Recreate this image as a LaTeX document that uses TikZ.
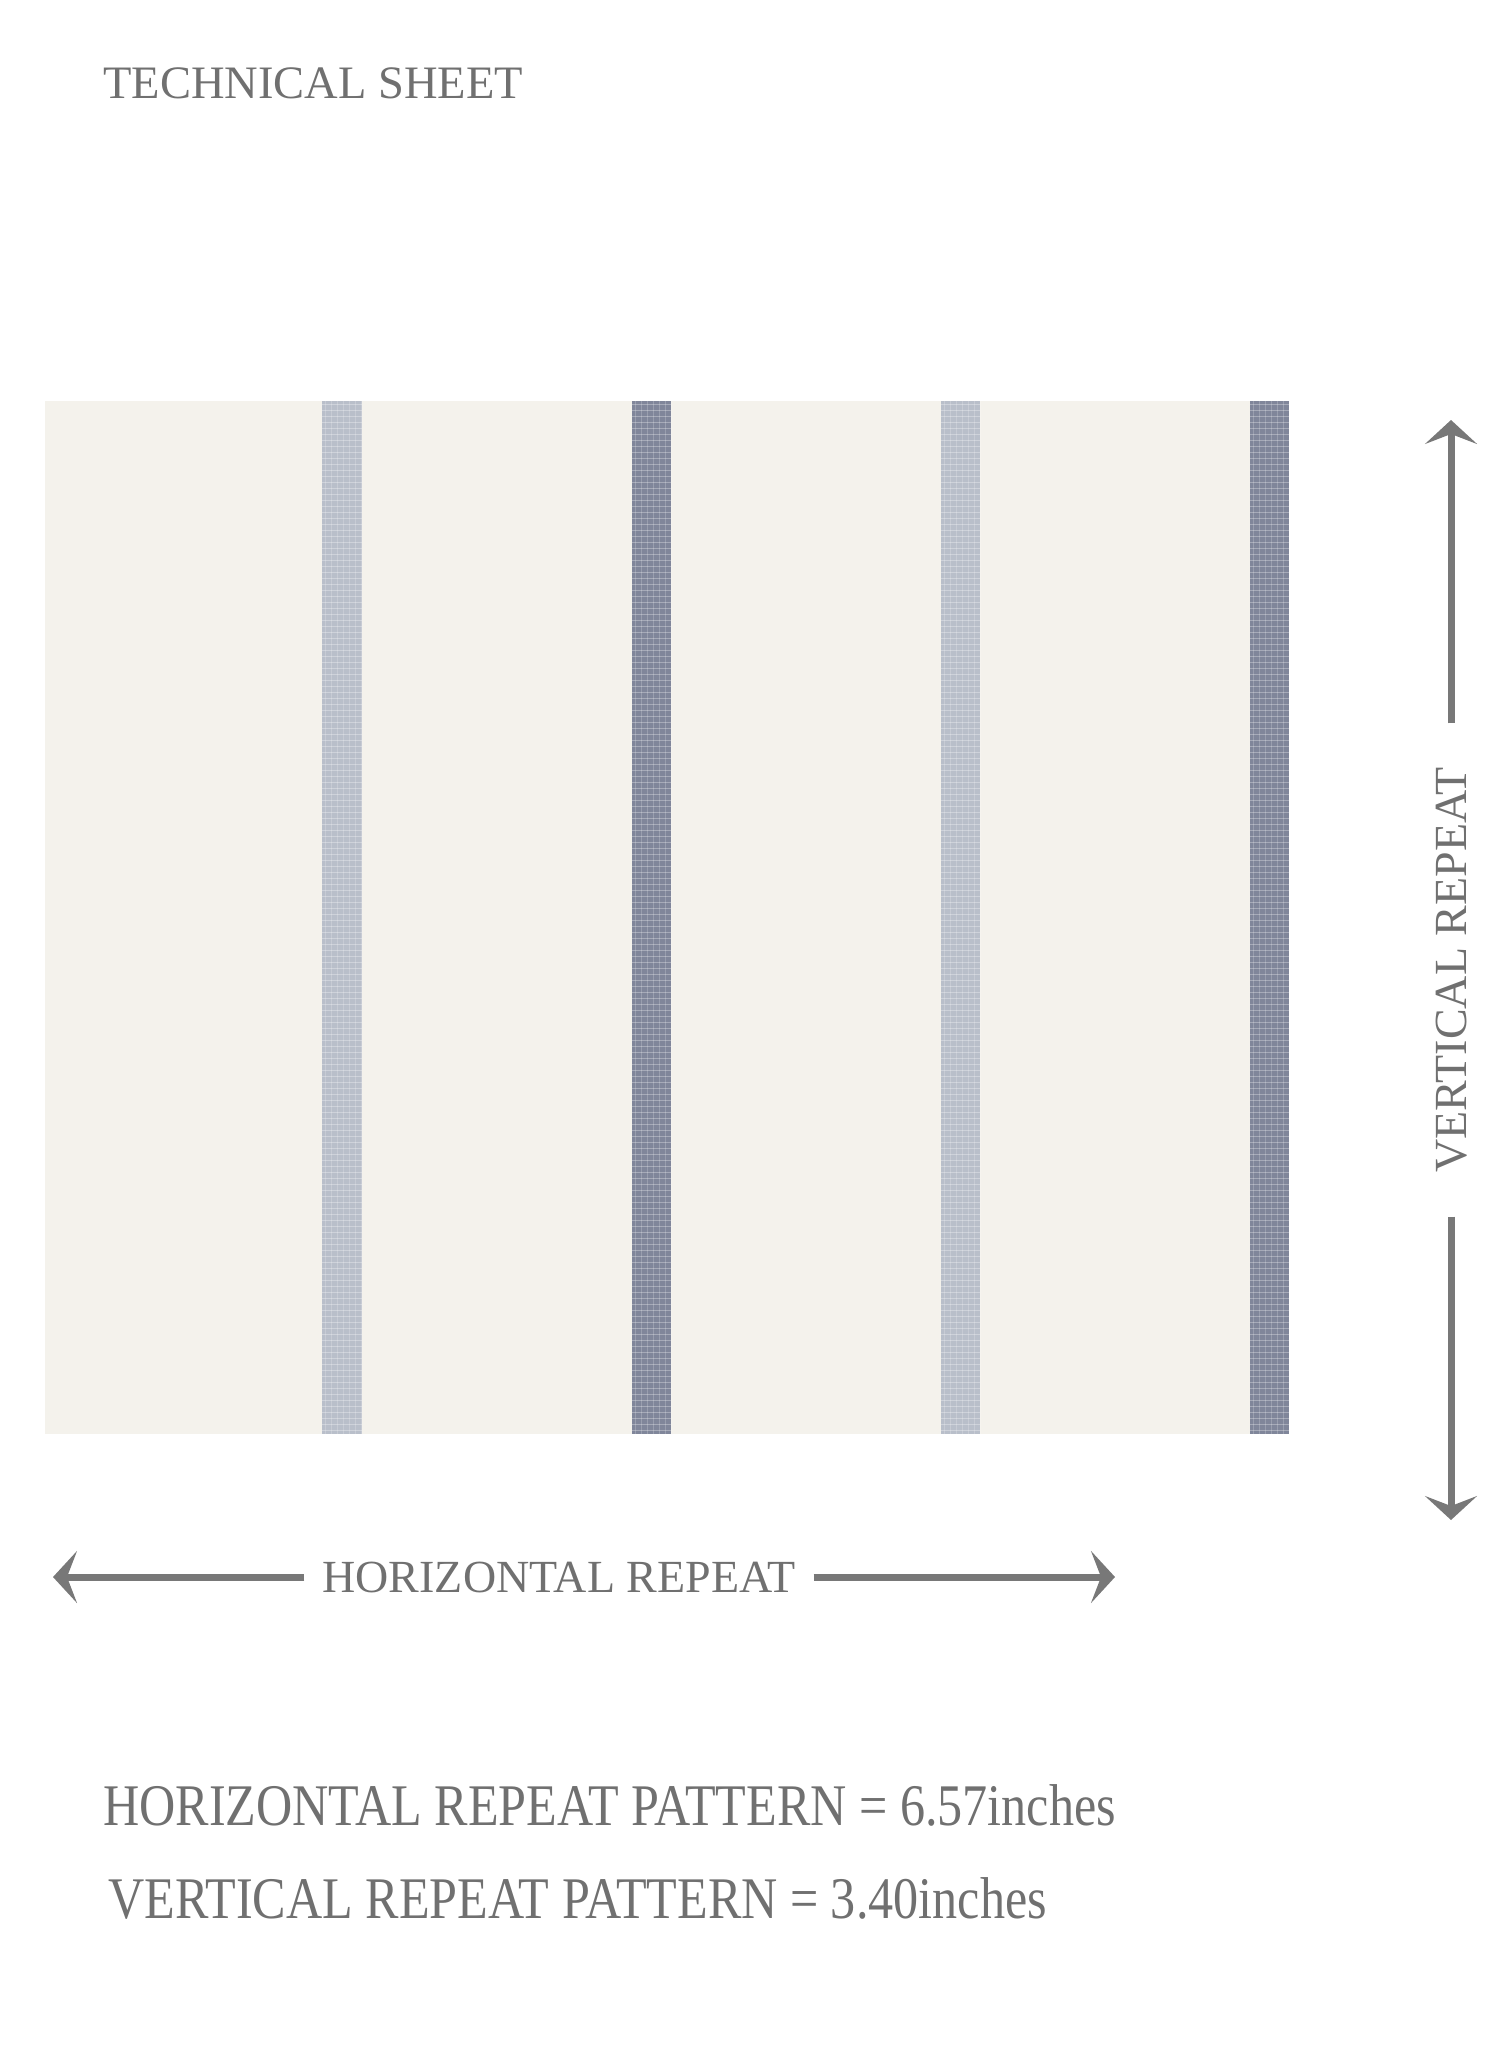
\documentclass[tikz,border=0pt]{standalone}
\usepackage{fontspec}
\setmainfont{Liberation Serif}
\newfontfamily\narrowserif[FakeStretch=0.85]{Liberation Serif}
\usetikzlibrary{arrows.meta}
\definecolor{sheetgray}{HTML}{707070}
\definecolor{arrowgray}{HTML}{787878}
\definecolor{linen}{HTML}{F4F2EC}
\definecolor{mistblue}{HTML}{B9BFCA}
\definecolor{slateblue}{HTML}{80869A}

\begin{document}
\begin{tikzpicture}[x=1pt, y=-1pt,
    sheettext/.style={text=sheetgray, inner sep=0pt, anchor=base west},
    repeatarrow/.style={arrowgray, line width=7pt, -{Stealth[length=24pt, width=52pt, inset=10pt]}},
    repeatlabel/.style={text=sheetgray, font=\fontsize{46}{50}\selectfont, text height=31pt, text depth=0pt, inner ysep=0pt}]

    \useasboundingbox (0,0) rectangle (1500,2063);

    % Title
    \node[sheettext, font=\fontsize{46.5}{50}\selectfont] (title) at (103,99) {TECHNICAL SHEET};

    % Draw fabric and stripes
    \fill[linen] (45,401) rectangle (1289,1434);
    \foreach \xl/\xr/\c in {322/362/mistblue, 632/671/slateblue, 941/980/mistblue, 1250/1289/slateblue} {
      \fill[\c] (\xl,401) rectangle (\xr,1434);
      % weave texture
      \foreach \y in {404,410,...,1430}
        \draw[white, opacity=0.3, line width=0.8pt] (\xl,\y) -- (\xr,\y);
      \foreach \dx in {3,9,...,39}
        \draw[white, opacity=0.2, line width=0.8pt] (\xl+\dx,401) -- (\xl+\dx,1434);
    }

    % Horizontal repeat
    \node[repeatlabel, inner xsep=18pt] (hlabel) at (559,1577) {HORIZONTAL REPEAT};
    \coordinate (hleft) at (53,1577);
    \coordinate (hright) at (1115,1577);
    \draw[repeatarrow] (hlabel.west) -- (hleft);
    \draw[repeatarrow] (hlabel.east) -- (hright);

    % Vertical repeat
    \node[repeatlabel, rotate=90, inner xsep=44pt] (vlabel) at (1451,970) {VERTICAL REPEAT};
    \coordinate (vtop) at (1451,420);
    \coordinate (vbottom) at (1451,1520);
    \draw[repeatarrow] (vlabel.east) -- (vtop);
    \draw[repeatarrow] (vlabel.west) -- (vbottom);

    % Repeat sizes
    \node[sheettext, font=\narrowserif\fontsize{59}{62}\selectfont] (hsize) at (103,1825) {HORIZONTAL REPEAT PATTERN = 6.57inches};
    \node[sheettext, font=\narrowserif\fontsize{59}{62}\selectfont] (vsize) at (108,1918) {VERTICAL REPEAT PATTERN = 3.40inches};

\end{tikzpicture}
\end{document}
